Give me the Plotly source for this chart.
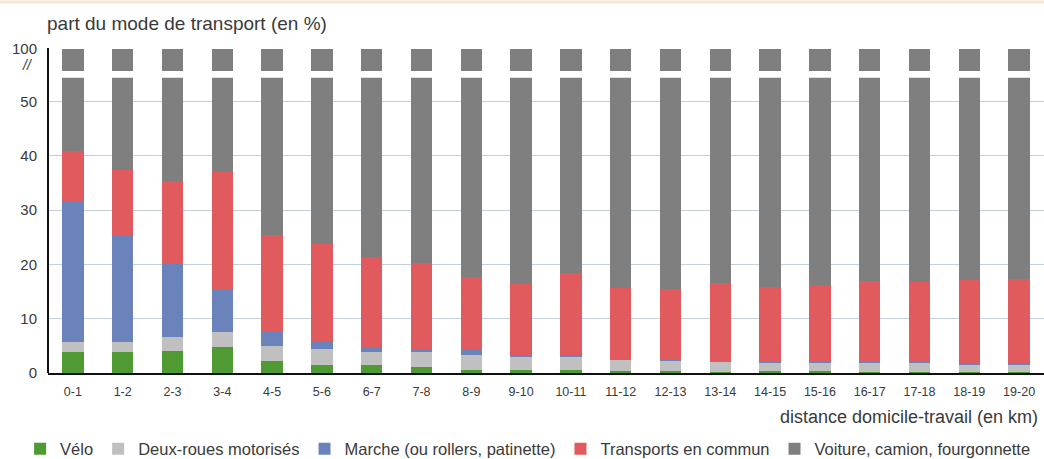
import plotly.graph_objects as go

categories = ["0-1", "1-2", "2-3", "3-4", "4-5", "5-6", "6-7", "7-8", "8-9", "9-10",
              "10-11", "11-12", "12-13", "13-14", "14-15", "15-16", "16-17", "17-18", "18-19", "19-20"]
velo = [3.8, 3.8, 4.1, 4.7, 2.2, 1.4, 1.4, 1.1, 0.6, 0.6, 0.6, 0.3, 0.3, 0.2, 0.3, 0.3, 0.2, 0.2, 0.1, 0.1]
deux_roues = [1.9, 1.9, 2.5, 2.9, 2.7, 3.0, 2.4, 2.7, 2.7, 2.5, 2.5, 2.2, 2.0, 2.0, 1.6, 1.6, 1.7, 1.7, 1.5, 1.5]
marche = [26.0, 19.5, 13.6, 7.9, 2.6, 1.3, 1.0, 0.6, 0.9, 0.2, 0.2, 0.1, 0.1, 0.1, 0.1, 0.1, 0.1, 0.1, 0.1, 0.1]
transports = [9.2, 12.2, 15.2, 21.6, 17.9, 18.0, 16.6, 15.8, 13.5, 13.1, 15.2, 13.0, 13.0, 14.3, 13.9, 14.3, 14.9, 14.7, 15.5, 15.7]
voiture = [round(100 - a - b - c - d, 1) for a, b, c, d in zip(velo, deux_roues, marche, transports)]

series = [
    ("Vélo", velo, "#4f9a32"),
    ("Deux-roues motorisés", deux_roues, "#c0c0c0"),
    ("Marche (ou rollers, patinette)", marche, "#6b83bb"),
    ("Transports en commun", transports, "#e15a5e"),
    ("Voiture, camion, fourgonnette", voiture, "#7f7f7f"),
]

FONT = "Liberation Sans, Arial, sans-serif"
TXT = "#3a3a3a"
GRID = "#c3d0d9"

fig = go.Figure()
for name, vals, col in series:
    fig.add_trace(go.Bar(x=categories, y=vals, name=name, marker_color=col,
                         marker_line_width=0, xaxis="x", yaxis="y"))
for name, vals, col in series:
    fig.add_trace(go.Bar(x=categories, y=vals, name=name, marker_color=col,
                         marker_line_width=0, xaxis="x2", yaxis="y2", showlegend=False))

fig.update_layout(
    width=1044, height=459,
    margin=dict(l=48, r=0, t=48, b=86, autoexpand=False),
    barmode="stack", bargap=0.57,
    plot_bgcolor="white", paper_bgcolor="white",
    font=dict(family=FONT, size=14, color=TXT),
    xaxis=dict(type="category", domain=[0, 1], showgrid=False, showline=True, linecolor="#111",
               linewidth=2, ticks="", tickfont=dict(size=12.5, color=TXT), anchor="y",
               ticklabelstandoff=6, automargin=False),
    xaxis2=dict(type="category", domain=[0, 1], matches="x", showticklabels=False, showgrid=False,
                showline=False, ticks="", anchor="y2", automargin=False),
    yaxis=dict(domain=[0, 0.9086], range=[0, 54.4], tickvals=[0, 10, 20, 30, 40, 50],
               showgrid=True, gridcolor=GRID, gridwidth=1, zeroline=False, showline=False,
               ticks="", tickfont=dict(size=15, color=TXT), ticklabelstandoff=10,
               automargin=False),
    yaxis2=dict(domain=[0.929, 1], range=[96, 100.1], tickvals=[100], ticktext=["100"],
                showgrid=True, gridcolor=GRID, gridwidth=1, zeroline=False, showline=False,
                ticks="", tickfont=dict(size=15, color=TXT), ticklabelstandoff=10,
                automargin=False),
    legend=dict(orientation="h", x=-0.028, xanchor="left", y=-0.234, yanchor="middle",
                font=dict(size=16.5, color=TXT), itemwidth=30, traceorder="normal",
                bgcolor="rgba(0,0,0,0)"),
    showlegend=True,
)

fig.add_shape(type="line", xref="paper", yref="paper", x0=0, x1=0, y0=0, y1=1,
              line=dict(color="#111", width=2))
fig.add_shape(type="line", xref="paper", yref="paper", x0=-0.05, x1=1.0, y0=1.1415, y1=1.1415,
              line=dict(color="#fbe6d6", width=3))

fig.add_annotation(text="part du mode de transport (en %)", xref="paper", yref="paper",
                   x=-0.003, y=1.074, xanchor="left", yanchor="middle", showarrow=False,
                   font=dict(size=19, color=TXT))
fig.add_annotation(text="<i>//</i>", xref="paper", yref="paper", x=-0.021, y=0.948,
                   xanchor="center", yanchor="middle", showarrow=False,
                   font=dict(size=14, color=TXT))
fig.add_annotation(text="distance domicile-travail (en km)", xref="paper", yref="paper",
                   x=0.996, y=-0.135, xanchor="right", yanchor="middle", showarrow=False,
                   font=dict(size=18, color=TXT))

fig.write_html("out.html", config={"displayModeBar": False},
               post_script="document.body.style.margin='0';")
